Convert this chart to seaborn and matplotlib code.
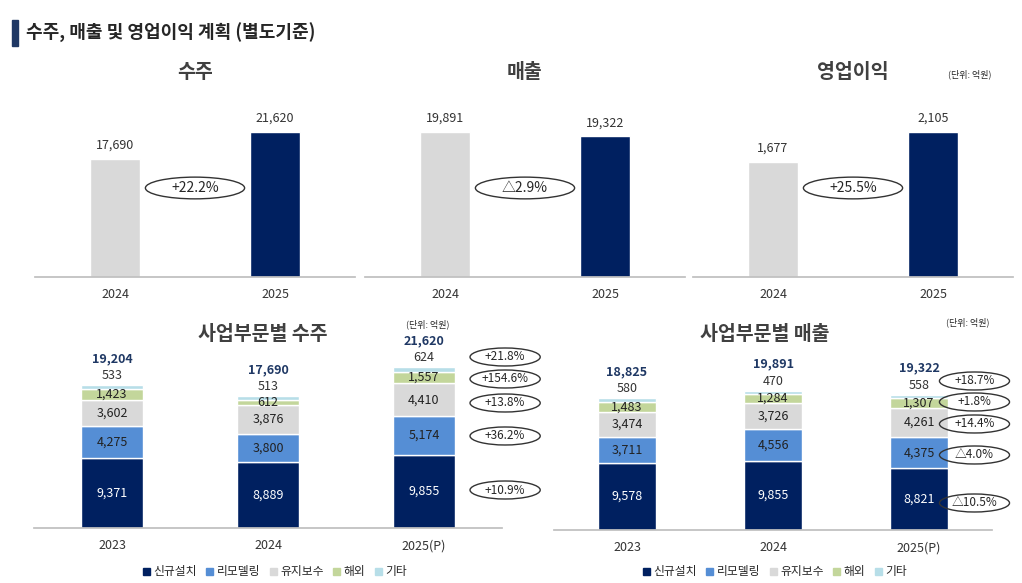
import matplotlib
matplotlib.use("Agg")
import matplotlib.pyplot as plt
import seaborn as sns
import pandas as pd
from matplotlib.patches import Ellipse, Rectangle

sns.set_theme(style="white")
plt.rcParams['font.family'] = ['Noto Sans CJK KR', 'DejaVu Sans']

NAVY, BLUE, GRAY, GREEN, LBLUE = "#002060", "#558ED5", "#D9D9D9", "#C3D69B", "#B7DEE8"

# top panels
years_top = ["2024", "2025"]
order_vals = [17690, 21620]
sales_vals = [19891, 19322]
op_vals = [1677, 2105]
top_titles = ["수주", "매출", "영업이익"]
top_growth = ["+22.2%", "△2.9%", "+25.5%"]

# bottom panels
years_bot = ["2023", "2024", "2025(P)"]
segments = ["신규설치", "리모델링", "유지보수", "해외", "기타"]
seg_colors = [NAVY, BLUE, GRAY, GREEN, LBLUE]
order_seg = {
    "신규설치": [9371, 8889, 9855],
    "리모델링": [4275, 3800, 5174],
    "유지보수": [3602, 3876, 4410],
    "해외": [1423, 612, 1557],
    "기타": [533, 513, 624],
}
order_tot = [19204, 17690, 21620]
order_growth = ["+10.9%", "+36.2%", "+13.8%", "+154.6%", "+21.8%"]
sales_seg = {
    "신규설치": [9578, 9855, 8821],
    "리모델링": [3711, 4556, 4375],
    "유지보수": [3474, 3726, 4261],
    "해외": [1483, 1284, 1307],
    "기타": [580, 470, 558],
}
sales_tot = [18825, 19891, 19322]
sales_growth = ["△10.5%", "△4.0%", "+14.4%", "+1.8%", "+18.7%"]

W, H = 1022, 583
fig = plt.figure(figsize=(W / 100, H / 100), dpi=100)


def px_axes(x0, y0, x1, y1):
    return fig.add_axes([x0 / W, 1 - y1 / H, (x1 - x0) / W, (y1 - y0) / H])


# header
fig.patches.append(Rectangle((12 / W, 1 - 46 / H), 6 / W, 26 / H, transform=fig.transFigure,
                             color="#1F3864"))
fig.text(26 / W, 1 - 33 / H, "수주, 매출 및 영업이익 계획 (별도기준)", fontsize=13,
         fontweight="bold", va="center")

top_boxes = [(35, 355), (365, 685), (693, 1013)]
for (x0, x1), vals, title, g in zip(top_boxes, [order_vals, sales_vals, op_vals], top_titles, top_growth):
    ax = px_axes(x0, 70, x1, 277)
    df = pd.DataFrame({"year": years_top, "v": vals})
    sns.barplot(data=df, x="year", y="v", hue="year", palette=[GRAY, NAVY], width=0.31,
                legend=False, ax=ax, saturation=1)
    ax.set_xlim(-0.5, 1.5)
    ax.set_ylim(0, max(vals) * 1.43)
    for i, v in enumerate(vals):
        ax.text(i, v + max(vals) * 0.05, f"{v:,}", ha="center", va="bottom", fontsize=9, color="#333333")
    ax.set_xlabel("")
    ax.set_ylabel("")
    ax.set_yticks([])
    ax.tick_params(axis="x", labelsize=9, colors="#333333", length=0, pad=8)
    for s in ["top", "left", "right"]:
        ax.spines[s].set_visible(False)
    ax.spines["bottom"].set_color("#BFBFBF")
    ax.add_patch(Ellipse((0.5, 0.43), 0.31, 0.105, transform=ax.transAxes, fill=False,
                         edgecolor="#333333", lw=1))
    ax.text(0.5, 0.43, g, transform=ax.transAxes, ha="center", va="center", fontsize=10)
    fig.text((x0 + x1) / 2 / W, 1 - 72 / H, title, ha="center", va="center", fontsize=14,
             fontweight="bold", color="#404040")
fig.text(970 / W, 1 - 74 / H, "(단위: 억원)", ha="center", va="center", fontsize=6.5)


def stacked(ax, seg, tot, growth, gy, gx, gw, gh, ymax):
    base = [0, 0, 0]
    rows = []
    for name in segments:
        for yr, v in zip(years_bot, seg[name]):
            rows.append({"year": yr, "seg": name, "v": v})
    df = pd.DataFrame(rows)
    for name, col in zip(segments, seg_colors):
        sub = df[df["seg"] == name]
        ax.bar(range(3), sub["v"].values, bottom=base, width=0.4, color=col)
        for i, v in enumerate(sub["v"].values):
            if name == "기타":
                ax.text(i, base[i] + v + ymax * 0.015, f"{v:,}", ha="center", va="bottom",
                        fontsize=9, color="#333333")
            else:
                ax.text(i, base[i] + v / 2, f"{v:,}", ha="center", va="center", fontsize=9,
                        color="white" if name == "신규설치" else "#222222")
        base = [b + v for b, v in zip(base, sub["v"].values)]
    for i, t in enumerate(tot):
        ax.text(i, t + ymax * 0.1, f"{t:,}", ha="center", va="bottom", fontsize=9,
                fontweight="bold", color="#1F3864")
    for y, g in zip(gy, growth):
        ax.add_patch(Ellipse((gx, y), gw, gh, fill=False, edgecolor="#333333", lw=1, clip_on=False))
        ax.text(gx, y, g, ha="center", va="center", fontsize=8.5, clip_on=False)
    ax.set_xlim(-0.5, 2.5)
    ax.set_ylim(0, ymax)
    ax.set_xticks(range(3))
    ax.set_xticklabels(years_bot)
    ax.set_yticks([])
    ax.tick_params(axis="x", labelsize=9, colors="#333333", length=0, pad=8)
    sns.despine(ax=ax, left=True)
    ax.spines["bottom"].set_color("#BFBFBF")
    ax.set_facecolor("none")


axl = px_axes(34, 330, 502, 528)
stacked(axl, order_seg, order_tot, order_growth, [5103, 12356, 16787, 20010, 22965],
        2.52, 0.45, 2417, 26590)
axr = px_axes(554, 330, 992, 530)
stacked(axr, sales_seg, sales_tot, sales_growth, [3851, 10696, 15117, 18254, 21249],
        2.38, 0.48, 2567, 28520)

fig.text(263 / W, 1 - 335 / H, "사업부문별 수주", ha="center", va="center", fontsize=14,
         fontweight="bold", color="#404040")
fig.text(765 / W, 1 - 335 / H, "사업부문별 매출", ha="center", va="center", fontsize=14,
         fontweight="bold", color="#404040")
fig.text(428 / W, 1 - 324 / H, "(단위: 억원)", ha="center", va="center", fontsize=6.5)
fig.text(968 / W, 1 - 322 / H, "(단위: 억원)", ha="center", va="center", fontsize=6.5)

handles = [Rectangle((0, 0), 1, 1, color=c) for c in seg_colors]
for cx in [275, 775]:
    fig.legend(handles, segments, loc="center", bbox_to_anchor=(cx / W, 1 - 572 / H), ncol=5,
               frameon=False, fontsize=8.5, handlelength=0.6, handleheight=0.6,
               columnspacing=0.8, handletextpad=0.3)

fig.savefig("out.png", dpi=100)
